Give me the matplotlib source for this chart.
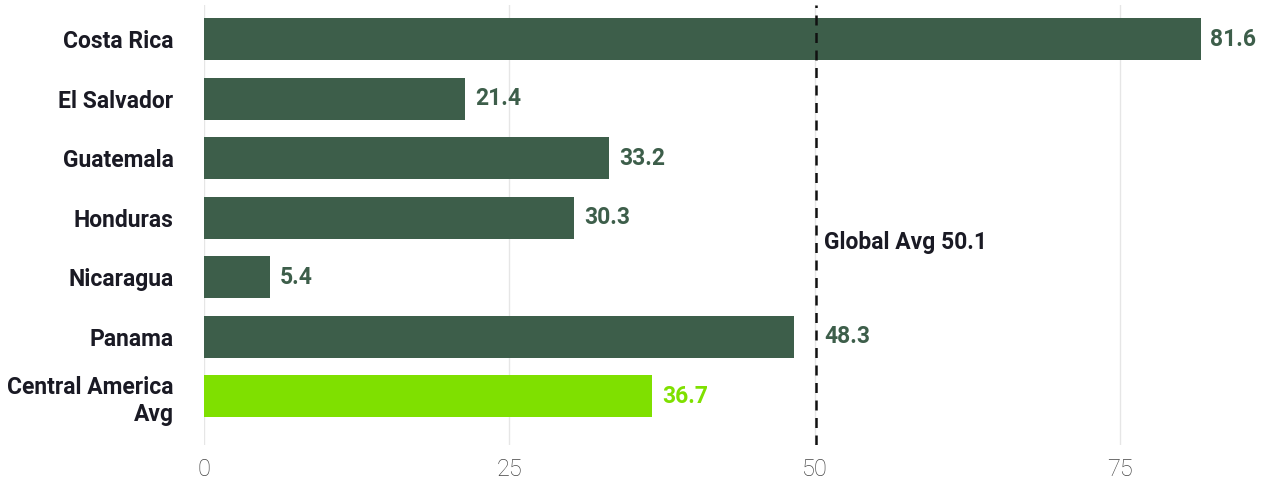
import matplotlib.pyplot as plt

countries = ['Costa Rica', 'El Salvador', 'Guatemala', 'Honduras', 'Nicaragua', 'Panama', 'Central America\nAvg']
values = [81.6, 21.4, 33.2, 30.3, 5.4, 48.3, 36.7]
global_avg = 50.1
xticks = [0, 25, 50, 75]

dark = '#3d5e4a'
lime = '#7fe000'
colors = [dark] * 6 + [lime]

plt.rcParams['font.family'] = ['Roboto', 'DejaVu Sans']

fig = plt.figure(figsize=(12.63, 4.78), dpi=100)
ax = fig.add_axes([0.1615, 0.069, 0.822, 0.92])

ypos = list(range(len(countries)))
ax.barh(ypos, values, height=0.71, color=colors, zorder=3)

for y, v, c in zip(ypos, values, colors):
    x = v + 0.8
    # push labels that would sit on the dashed line past it
    if v < global_avg and x + 3 > global_avg:
        x = global_avg + 0.7
    ax.text(x, y, f'{v}', va='center', ha='left', fontsize=16.5,
            fontweight='bold', color=c, zorder=4)

ax.axvline(global_avg, color='#111111', linestyle=(0, (4, 3)), linewidth=1.8, zorder=4)
ax.text(global_avg + 0.7, 3.41, f'Global Avg {global_avg}', va='center', ha='left',
        fontsize=16.5, fontweight='bold', color='#1a1a24')

ax.set_yticks(ypos)
ax.set_yticklabels(countries, fontsize=16.5, fontweight='bold', color='#1a1a24', linespacing=1.25)
ax.set_xticks(xticks)
ax.set_xticklabels([str(t) for t in xticks], fontsize=17, fontweight='light', color='#444444')
ax.set_xlim(0, 85)
ax.set_ylim(6.82, -0.57)
ax.grid(axis='x', color='#e6e6e6', linewidth=1, zorder=0)
ax.tick_params(length=0)
ax.tick_params(axis='y', pad=22)
ax.tick_params(axis='x', pad=9)
for s in ax.spines.values():
    s.set_visible(False)

fig.savefig('out.png', dpi=100)
